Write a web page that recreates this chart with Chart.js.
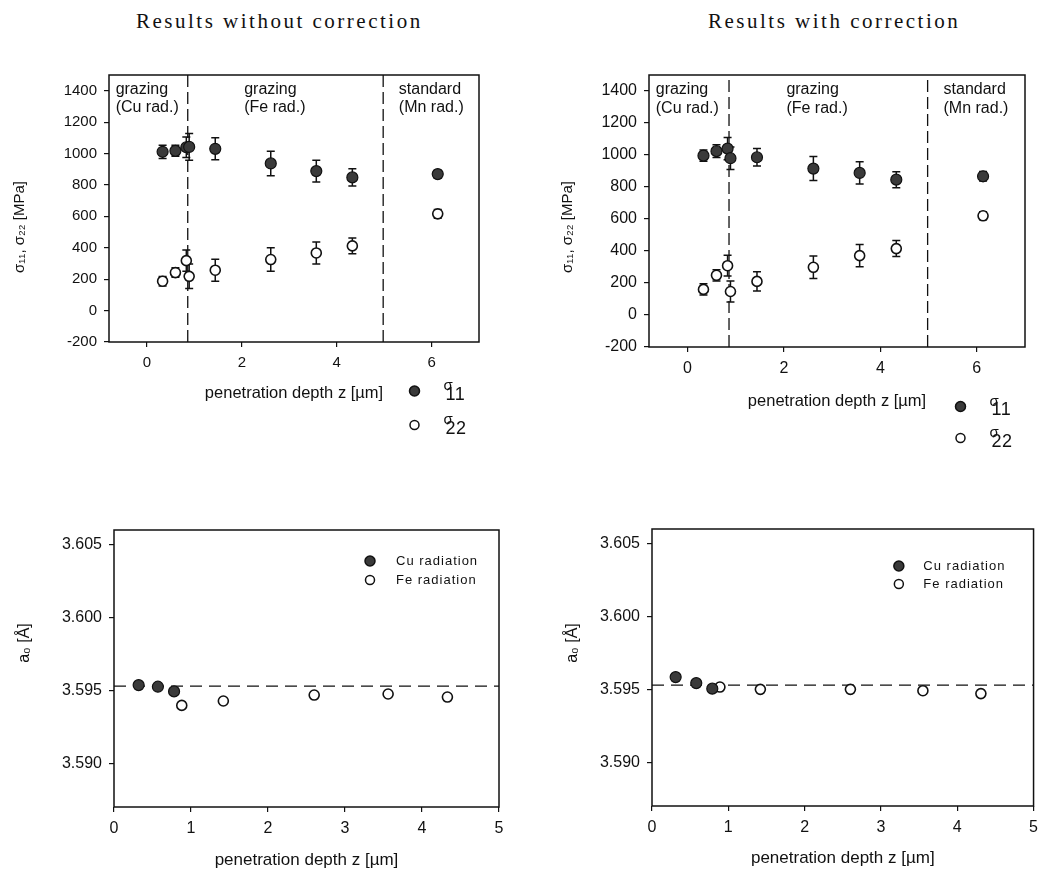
<!DOCTYPE html>
<html>
<head>
<meta charset="utf-8">
<script src="https://cdn.jsdelivr.net/npm/chart.js@4.4.1/dist/chart.umd.min.js"></script>
<style>
  body { margin: 0; background: #fff; width: 1045px; height: 870px; position: relative; overflow: hidden; }
  canvas { position: absolute; }
  .head { position: absolute; top: 11px; font-family: "Liberation Serif", "Times New Roman", serif;
          font-size: 21px; line-height: 21px; letter-spacing: 2.5px; white-space: nowrap; color: #111; }
</style>
</head>
<body>
<div class="head" style="left:136px">Results without correction</div>
<div class="head" style="left:708px">Results with correction</div>
<canvas id="stressRaw"></canvas>
<canvas id="stressCorr"></canvas>
<canvas id="latticeRaw"></canvas>
<canvas id="latticeCorr"></canvas>
<script>
// ---- data ----
// depth of the stress points [µm] (Cu: first three, Fe: next five, Mn: last)
var depth = [0.33, 0.60, 0.83, 0.89, 1.44, 2.61, 3.57, 4.33, 6.13];

// without correction
var s11Raw    = [1011, 1017, 1040, 1042, 1030, 937, 888, 848, 869];
var s11RawErr = [42, 35, 65, 85, 70, 78, 70, 55, 25];
var s22Raw    = [187, 242, 318, 218, 257, 325, 367, 412, 616];
var s22RawErr = [30, 30, 68, 78, 70, 75, 70, 50, 28];

// with correction
var s11Corr    = [996, 1024, 1040, 980, 986, 915, 888, 846, 867];
var s11CorrErr = [35, 40, 70, 70, 55, 75, 70, 50, 30];
var s22Corr    = [160, 248, 308, 147, 210, 298, 371, 415, 620];
var s22CorrErr = [35, 35, 65, 65, 60, 70, 70, 50, 25];

var stressRange = [-200, 1500];
var stressTicks = [-200, 0, 200, 400, 600, 800, 1000, 1200, 1400];
var depthRangeTop = [-0.8, 7];
var depthTicksTop = [0, 2, 4, 6];
var regionBounds = [0.86, 4.98];
var regionLabelX = [-0.66, 2.05, 5.31];
var regionLabels = [['grazing', '(Cu rad.)'], ['grazing', '(Fe rad.)'], ['standard', '(Mn rad.)']];

// lattice parameter a0 [Å]
var cuDepthRaw = [0.32, 0.57, 0.78];
var cuA0Raw    = [3.59536, 3.59525, 3.59493];
var feDepthRaw = [0.88, 1.42, 2.60, 3.56, 4.33];
var feA0Raw    = [3.59397, 3.59427, 3.59468, 3.59475, 3.59454];

var cuDepthCorr = [0.31, 0.58, 0.79];
var cuA0Corr    = [3.59584, 3.59543, 3.59505];
var feDepthCorr = [0.89, 1.42, 2.60, 3.55, 4.31];
var feA0Corr    = [3.59516, 3.59500, 3.59500, 3.59491, 3.59471];

var a0Ref = 3.59529;
var a0Range = [3.587, 3.606];
var a0Ticks = [3.590, 3.595, 3.600, 3.605];
var depthRangeBottom = [0, 5];
var depthTicksBottom = [0, 1, 2, 3, 4, 5];

// ---- drawing ----
var FONT = '"Liberation Sans", Arial, sans-serif';
Chart.defaults.font.family = FONT;
Chart.defaults.color = '#111';

function pts(xs, ys) {
  return xs.map(function (x, i) { return { x: x, y: ys[i] }; });
}
var dark = '#3a3a3a';

function markers(data, filled, errors) {
  return {
    data: data,
    errors: errors,
    pointRadius: filled ? 5.5 : 5,
    pointBackgroundColor: filled ? dark : '#fff',
    pointBorderColor: '#111',
    pointBorderWidth: filled ? 1.2 : 1.6,
    showLine: false
  };
}
function dashed(data, dash) {
  return { data: data, showLine: true, pointRadius: 0, borderColor: '#111', borderWidth: 1.3, borderDash: dash, fill: false };
}

var errorBars = {
  id: 'errorBars',
  beforeDatasetsDraw: function (chart) {
    var ctx = chart.ctx, xs = chart.scales.x, ys = chart.scales.y;
    ctx.save();
    ctx.strokeStyle = '#111';
    ctx.lineWidth = 1.5;
    chart.data.datasets.forEach(function (ds) {
      if (!ds.errors) return;
      ds.data.forEach(function (p, i) {
        var x = xs.getPixelForValue(p.x);
        var y1 = ys.getPixelForValue(p.y + ds.errors[i]);
        var y2 = ys.getPixelForValue(p.y - ds.errors[i]);
        ctx.beginPath();
        ctx.moveTo(x, y1); ctx.lineTo(x, y2);
        ctx.moveTo(x - 4, y1); ctx.lineTo(x + 4, y1);
        ctx.moveTo(x - 4, y2); ctx.lineTo(x + 4, y2);
        ctx.stroke();
      });
    });
    ctx.restore();
  }
};

var frame = {
  id: 'frame',
  afterDraw: function (chart) {
    var a = chart.chartArea, ctx = chart.ctx;
    ctx.save();
    ctx.strokeStyle = '#111';
    ctx.lineWidth = 1.5;
    ctx.strokeRect(a.left, a.top, a.right - a.left, a.bottom - a.top);
    ctx.restore();
  }
};

// region captions inside the stress plots
var notes = {
  id: 'notes',
  afterDraw: function (chart, args, o) {
    if (!o.labels) return;
    var ctx = chart.ctx, xs = chart.scales.x, ys = chart.scales.y;
    ctx.save();
    ctx.fillStyle = '#111';
    ctx.font = '16px ' + FONT;
    ctx.textAlign = 'left';
    ctx.textBaseline = 'middle';
    o.labels.forEach(function (lines, i) {
      var x = xs.getPixelForValue(o.xs[i]);
      var y = ys.getPixelForValue(o.y);
      lines.forEach(function (t, j) { ctx.fillText(t, x, y + j * o.lineGap); });
    });
    ctx.restore();
  }
};

// legends
var keys = {
  id: 'keys',
  afterDraw: function (chart, args, o) {
    if (!o.items) return;
    var ctx = chart.ctx, a = chart.chartArea;
    var x0 = a.right + o.dx;
    ctx.save();
    o.items.forEach(function (it, i) {
      var y = (o.fromBottom ? a.bottom : a.top) + o.dys[i];
      ctx.beginPath();
      ctx.arc(x0, y, it.filled ? 5 : 4.5, 0, Math.PI * 2);
      ctx.fillStyle = it.filled ? dark : '#fff';
      ctx.fill();
      ctx.lineWidth = 1.5;
      ctx.strokeStyle = '#111';
      ctx.stroke();
      ctx.fillStyle = '#111';
      ctx.textAlign = 'left';
      ctx.textBaseline = 'middle';
      if (it.sub) {
        ctx.font = '15px ' + FONT;
        ctx.fillText('σ', x0 + o.tx, y - 5);
        ctx.letterSpacing = '0.5px';
        ctx.font = '18px ' + FONT;
        ctx.fillText(it.sub, x0 + o.tx + 2, y + 4);
        ctx.letterSpacing = '0px';
      } else {
        ctx.letterSpacing = '1px';
        ctx.font = '13px ' + FONT;
        ctx.fillText(it.text, x0 + o.tx, y);
        ctx.letterSpacing = '0px';
      }
    });
    ctx.restore();
  }
};

var yLabel = {
  id: 'yLabel',
  afterDraw: function (chart, args, o) {
    if (!o.text) return;
    var ctx = chart.ctx, a = chart.chartArea;
    ctx.save();
    ctx.translate(o.cx, a.top + o.dy);
    ctx.rotate(-Math.PI / 2);
    ctx.fillStyle = '#111';
    ctx.font = o.size + 'px ' + FONT;
    ctx.textAlign = 'center';
    ctx.textBaseline = 'middle';
    ctx.fillText(o.text, 0, 0);
    ctx.restore();
  }
};

function makeChart(id, g, datasets, x, y, extra) {
  var cv = document.getElementById(id);
  cv.width = g.w; cv.height = g.h;
  cv.style.left = g.left + 'px';
  cv.style.top = g.top + 'px';
  var xBottom = g.xTitleY + g.xTitleSize * 0.6;
  var gridOpt = { drawOnChartArea: false, tickLength: 5, color: '#111', lineWidth: 1.2 };
  var yTicksOpt = { font: { size: g.tickSize }, padding: 7, callback: y.fmt };
  var plugins = { legend: { display: false }, tooltip: { enabled: false } };
  Object.keys(extra).forEach(function (k) { plugins[k] = extra[k]; });
  return new Chart(cv, {
    type: 'scatter',
    data: { datasets: datasets },
    options: {
      responsive: false,
      animation: false,
      devicePixelRatio: 1,
      layout: { padding: { left: 0, top: g.area[1] - g.top, right: g.left + g.w - g.area[2], bottom: g.top + g.h - xBottom } },
      plugins: plugins,
      scales: {
        x: {
          type: 'linear', min: x.range[0], max: x.range[1],
          afterBuildTicks: function (s) { s.ticks = x.ticks.map(function (v) { return { value: v }; }); },
          afterFit: function (s) { s.height = xBottom - g.area[3]; },
          grid: gridOpt,
          border: { display: false },
          ticks: { font: { size: g.tickSize }, padding: 7, maxRotation: 0, callback: function (v) { return String(v); } },
          title: { display: true, text: 'penetration depth z [µm]', font: { size: g.xTitleSize }, padding: 0 }
        },
        y: {
          type: 'linear', min: y.range[0], max: y.range[1],
          afterBuildTicks: function (s) { s.ticks = y.ticks.map(function (v) { return { value: v }; }); },
          afterFit: function (s) { s.width = g.area[0] - g.left; },
          grid: gridOpt,
          border: { display: false },
          ticks: yTicksOpt
        }
      }
    },
    plugins: [errorBars, frame, notes, keys, yLabel]
  });
}

function stressSets(s11, e11, s22, e22) {
  return [
    markers(pts(depth, s11), true, e11),
    markers(pts(depth, s22), false, e22),
    dashed([{ x: regionBounds[0], y: stressRange[0] }, { x: regionBounds[0], y: stressRange[1] }], [12, 5]),
    dashed([{ x: regionBounds[1], y: stressRange[0] }, { x: regionBounds[1], y: stressRange[1] }], [12, 5])
  ];
}
function latticeSets(cuX, cuY, feX, feY) {
  return [
    markers(pts(cuX, cuY), true),
    markers(pts(feX, feY), false),
    dashed([{ x: depthRangeBottom[0], y: a0Ref }, { x: depthRangeBottom[1], y: a0Ref }], [12, 7])
  ];
}

var stressX = { range: depthRangeTop, ticks: depthTicksTop };
var stressY = { range: stressRange, ticks: stressTicks, fmt: function (v) { return String(v); } };
var latticeX = { range: depthRangeBottom, ticks: depthTicksBottom };
var latticeY = { range: a0Range, ticks: a0Ticks, fmt: function (v) { return v.toFixed(3); } };
var sigmaKeys = [{ filled: true, sub: '11' }, { filled: false, sub: '22' }];
var radKeys = [{ filled: true, text: 'Cu radiation' }, { filled: false, text: 'Fe radiation' }];

makeChart('stressRaw',
  { left: 0, top: 50, w: 525, h: 400, area: [109, 75, 479, 342], xTitleY: 393, xTitleSize: 16.5, tickSize: 15 },
  stressSets(s11Raw, s11RawErr, s22Raw, s22RawErr), stressX, stressY,
  {
    notes: { labels: regionLabels, xs: regionLabelX, y: 1410, lineGap: 18.5 },
    keys: { items: sigmaKeys, fromBottom: true, dx: -64.5, dys: [49, 83], tx: 29 },
    yLabel: { text: 'σ₁₁, σ₂₂ [MPa]', cx: 20, dy: 152, size: 15 }
  });

makeChart('stressCorr',
  { left: 530, top: 50, w: 515, h: 400, area: [649, 75, 1025, 347], xTitleY: 401, xTitleSize: 16.5, tickSize: 16 },
  stressSets(s11Corr, s11CorrErr, s22Corr, s22CorrErr), stressX, stressY,
  {
    notes: { labels: regionLabels, xs: regionLabelX, y: 1406, lineGap: 18.5 },
    keys: { items: sigmaKeys, fromBottom: true, dx: -64.5, dys: [59.5, 91], tx: 29 },
    yLabel: { text: 'σ₁₁, σ₂₂ [MPa]', cx: 38, dy: 152, size: 15 }
  });

makeChart('latticeRaw',
  { left: 0, top: 480, w: 525, h: 390, area: [114, 530, 499, 807], xTitleY: 860, xTitleSize: 17, tickSize: 16 },
  latticeSets(cuDepthRaw, cuA0Raw, feDepthRaw, feA0Raw), latticeX, latticeY,
  {
    keys: { items: radKeys, fromBottom: false, dx: -129, dys: [31, 50], tx: 26 },
    yLabel: { text: 'a₀ [Å]', cx: 25, dy: 113, size: 16 }
  });

makeChart('latticeCorr',
  { left: 530, top: 480, w: 515, h: 390, area: [652, 529, 1037, 806], xTitleY: 858, xTitleSize: 17, tickSize: 16 },
  latticeSets(cuDepthCorr, cuA0Corr, feDepthCorr, feA0Corr), latticeX, latticeY,
  {
    keys: { items: radKeys, fromBottom: false, dx: -134.7, dys: [37, 55], tx: 24.5 },
    yLabel: { text: 'a₀ [Å]', cx: 43, dy: 114, size: 16 }
  });
</script>
</body>
</html>
